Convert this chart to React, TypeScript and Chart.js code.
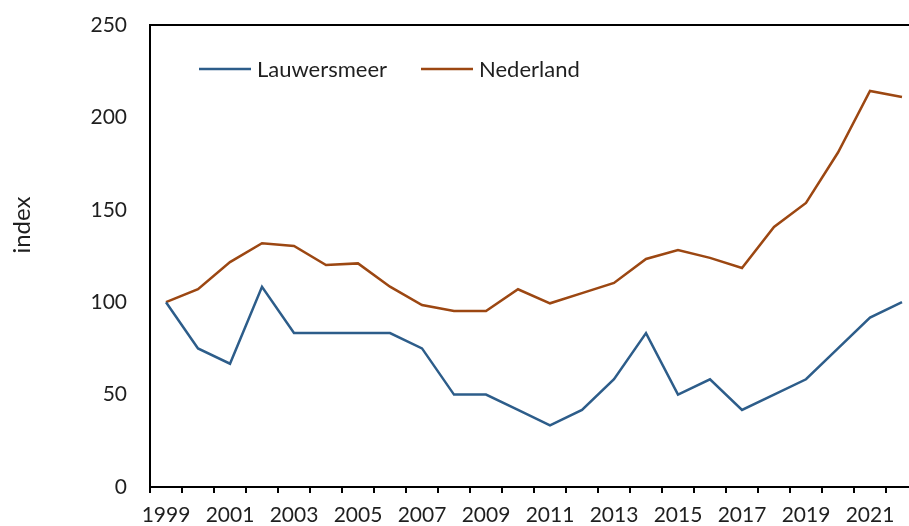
import React, { useEffect, useRef } from "react";
import { Chart, registerables } from "chart.js";

Chart.register(...registerables);

const years = ["1999","2000","2001","2002","2003","2004","2005","2006","2007","2008","2009","2010","2011","2012","2013","2014","2015","2016","2017","2018","2019","2020","2021","2022"];
const lauwersmeer = [100, 75, 66.7, 108.3, 83.3, 83.3, 83.3, 83.3, 75, 50, 50, 41.7, 33.3, 41.7, 58.3, 83.3, 50, 58.3, 41.7, 50, 58.3, 75, 91.7, 100];
const nederland = [100, 107, 121.7, 131.9, 130.4, 120.1, 121, 108.4, 98.5, 95.2, 95.2, 107, 99.4, 104.9, 110.4, 123.4, 128.2, 124, 118.5, 140.7, 153.7, 181, 214.3, 211];
const seriesNames = ["Lauwersmeer", "Nederland"];
const yTitle = "index";

const FONT = "Lato, 'Open Sans', sans-serif";
const TEXT = "#1f1f1f";
const BLUE = "#2d5d8a";
const BROWN = "#9c4712";

const extrasPlugin = {
  id: "extras",
  afterDraw(chart: any) {
    const { ctx, chartArea } = chart;
    ctx.save();
    // top and right border of plot area
    ctx.strokeStyle = "#000";
    ctx.lineWidth = 2;
    ctx.beginPath();
    ctx.moveTo(chartArea.left, chartArea.top);
    ctx.lineTo(chartArea.right, chartArea.top);
    ctx.lineTo(chartArea.right, chartArea.bottom);
    ctx.stroke();
    // y title
    ctx.fillStyle = TEXT;
    ctx.font = `24px ${FONT}`;
    ctx.textAlign = "center";
    ctx.textBaseline = "middle";
    ctx.translate(22, 225);
    ctx.rotate(-Math.PI / 2);
    ctx.fillText(yTitle, 0, 0);
    ctx.restore();
    // legend
    ctx.save();
    ctx.font = `22px ${FONT}`;
    ctx.textBaseline = "middle";
    ctx.textAlign = "left";
    const y = 69;
    const starts = [199, 421];
    chart.data.datasets.forEach((ds: any, i: number) => {
      const x0 = starts[i];
      ctx.strokeStyle = ds.borderColor;
      ctx.lineWidth = 2.5;
      ctx.beginPath();
      ctx.moveTo(x0, y);
      ctx.lineTo(x0 + 52, y);
      ctx.stroke();
      ctx.fillStyle = TEXT;
      ctx.fillText(ds.label, x0 + 58, y + 1);
    });
    ctx.restore();
  },
};

export default function App() {
  const ref = useRef<HTMLCanvasElement>(null);
  useEffect(() => {
    if (!ref.current) return;
    const chart = new Chart(ref.current, {
      type: "line",
      data: {
        labels: years,
        datasets: [
          { label: seriesNames[0], data: lauwersmeer, borderColor: BLUE, backgroundColor: BLUE, borderWidth: 2.5, pointRadius: 0, tension: 0 },
          { label: seriesNames[1], data: nederland, borderColor: BROWN, backgroundColor: BROWN, borderWidth: 2.5, pointRadius: 0, tension: 0 },
        ],
      },
      options: {
        animation: false,
        responsive: false,
        devicePixelRatio: 1,
        layout: { padding: { top: 25, left: 0, right: 12, bottom: 0 } },
        plugins: { legend: { display: false }, tooltip: { enabled: false }, title: { display: false } },
        scales: {
          x: {
            type: "category",
            offset: true,
            grid: { display: true, offset: true, drawOnChartArea: false, drawTicks: true, tickLength: 6, color: "#000", lineWidth: 2 },
            border: { display: true, color: "#000", width: 2 },
            ticks: {
              autoSkip: false,
              maxRotation: 0,
              padding: 10,
              color: TEXT,
              font: { family: FONT, size: 21 },
              callback: (_v: any, i: number) => (i % 2 === 0 ? years[i] : ""),
            },
            afterFit: (s: any) => { s.height = 39; },
          },
          y: {
            min: 0,
            max: 250,
            grid: { display: false, drawTicks: false },
            border: { display: true, color: "#000", width: 2 },
            ticks: { stepSize: 50, padding: 23, color: TEXT, font: { family: FONT, size: 21 } },
            afterFit: (s: any) => { s.width = 150; s.paddingTop = 0; s.paddingBottom = 0; },
          },
        },
      },
      plugins: [extrasPlugin],
    });
    return () => chart.destroy();
  }, []);
  return (
    <div style={{ position: "fixed", left: 0, top: 0, width: 909, height: 526, overflow: "hidden", background: "#fff" }}>
      <canvas ref={ref} width={930} height={526} style={{ display: "block" }} />
    </div>
  );
}
